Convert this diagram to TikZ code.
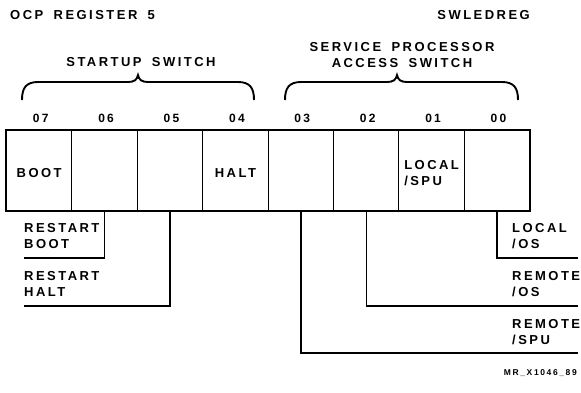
\documentclass[tikz,border=0pt]{standalone}
\usepackage{fontspec}
\setmainfont{Liberation Sans}[LetterSpace=19,WordSpace=1.7]
\begin{document}
\begin{tikzpicture}[x=1pt,y=-1pt,
  cell/.style={draw,line width=1pt,minimum width=65.4pt,minimum height=80pt,inner sep=0pt,anchor=north west},
  lbl/.style={inner sep=0pt,font=\fontsize{13}{16}\selectfont\bfseries,align=left},
  bitno/.style={inner sep=0pt,font=\fontsize{12}{14}\selectfont\bfseries},
  brace/.style={line width=1.9pt},
  conn/.style={line width=1.4pt}]
\useasboundingbox (0,0) rectangle (581,392);
% header texts
\node[lbl,anchor=west] (title) at (10,15.5) {OCP REGISTER 5};
\node[lbl,anchor=east] (reg) at (530,15.5) {SWLEDREG};
% cells
\node[cell] (c07) at (6,130) {};
\node[cell] (c06) at (71.4,130) {};
\node[cell] (c05) at (136.8,130) {};
\node[cell] (c04) at (202.2,130) {};
\node[cell] (c03) at (267.6,130) {};
\node[cell] (c02) at (333,130) {};
\node[cell] (c01) at (398.4,130) {};
\node[cell] (c00) at (463.8,130) {};
\draw[line width=2.2pt] (c07.north west) rectangle (c00.south east);
% cell texts
\node[lbl] (tboot) at ([yshift=-3pt]c07.center) {BOOT};
\node[lbl] (thalt) at ([yshift=-3pt]c04.center) {HALT};
\node[lbl] (tlspu) at ([yshift=-3pt]c01.center) {LOCAL\\/SPU};
% bit numbers
\foreach \n in {07,06,05,04,03,02,01,00}
  \node[bitno] (b\n) at ([xshift=1.5pt,yshift=12pt]c\n.north) {\n};
% braces
\draw[brace] (22,100) .. controls (22,88) and (26,82) .. (38,82) -- (128,82)
  .. controls (134,82) and (137,80) .. (138,75)
  .. controls (139,80) and (142,82) .. (148,82) -- (238,82)
  .. controls (250,82) and (254,88) .. (254,100);
\draw[brace] (285,100) .. controls (285,88) and (289,82) .. (301,82) -- (387,82)
  .. controls (393,82) and (396,80) .. (397,75)
  .. controls (398,80) and (401,82) .. (407,82) -- (502,82)
  .. controls (514,82) and (518,88) .. (518,100);
\node[lbl] (tstart) at (141,62) {STARTUP SWITCH};
\node[lbl,align=center] (tsp) at (402,55) {SERVICE PROCESSOR\\ACCESS SWITCH};
% lower labels
\node[lbl,anchor=west] (rboot) at (24,236.5) {RESTART\\BOOT};
\node[lbl,anchor=west] (rhalt) at (24,284) {RESTART\\HALT};
\node[lbl,anchor=west] (los) at (512,236.5) {LOCAL\\/OS};
\node[lbl,anchor=west] (ros) at (512,284) {REMOTE\\/OS};
\node[lbl,anchor=west] (rspu) at (512,332) {REMOTE\\/SPU};
\coordinate (erb) at (24,258);
\coordinate (erh) at (24,306);
\coordinate (elos) at (578,258);
\coordinate (eros) at (578,306);
\coordinate (erspu) at (578,353);
\draw[conn] (c06.south) |- (erb);
\draw[conn] (c05.south) |- (erh);
\draw[conn] (c00.south) |- (elos);
\draw[conn] (c02.south) |- (eros);
\draw[conn] (c03.south) |- (erspu);
\node[inner sep=0pt,anchor=east,font=\fontsize{8.5}{10}\selectfont\bfseries] (mr) at (577,373) {MR\_X1046\_89};
\end{tikzpicture}
\end{document}
